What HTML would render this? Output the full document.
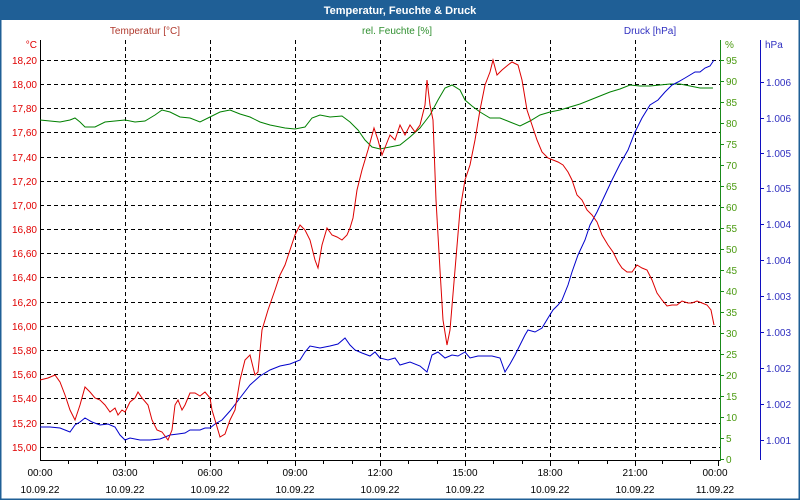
<!DOCTYPE html>
<html><head><meta charset="utf-8"><style>
html,body{margin:0;padding:0;background:#fff}
svg{display:block;font-family:"Liberation Sans",sans-serif}
</style></head><body>
<svg width="800" height="500" viewBox="0 0 800 500">
<rect x="0" y="0" width="800" height="500" fill="#fff"/>
<rect x="0" y="0" width="800" height="20" fill="#1f5f96"/>
<rect x="0.5" y="0.5" width="799" height="499" fill="none" stroke="#1f5f96" stroke-width="2"/>
<text x="400" y="14" text-anchor="middle" font-size="11" font-weight="bold" fill="#fff">Temperatur, Feuchte &amp; Druck</text>
<text x="145" y="34" text-anchor="middle" font-size="10" fill="#b03a2e">Temperatur [°C]</text>
<text x="397" y="34" text-anchor="middle" font-size="10" fill="#2f8f2f">rel. Feuchte [%]</text>
<text x="650" y="34" text-anchor="middle" font-size="10" fill="#3030c0">Druck [hPa]</text>
<g stroke="#000" stroke-dasharray="4,3" stroke-width="1">
<line x1="40" y1="60.5" x2="720" y2="60.5"/><line x1="40" y1="84.5" x2="720" y2="84.5"/>
<line x1="40" y1="108.5" x2="720" y2="108.5"/><line x1="40" y1="132.5" x2="720" y2="132.5"/>
<line x1="40" y1="157.5" x2="720" y2="157.5"/><line x1="40" y1="181.5" x2="720" y2="181.5"/>
<line x1="40" y1="205.5" x2="720" y2="205.5"/><line x1="40" y1="229.5" x2="720" y2="229.5"/>
<line x1="40" y1="253.5" x2="720" y2="253.5"/><line x1="40" y1="277.5" x2="720" y2="277.5"/>
<line x1="40" y1="302.5" x2="720" y2="302.5"/><line x1="40" y1="326.5" x2="720" y2="326.5"/>
<line x1="40" y1="350.5" x2="720" y2="350.5"/><line x1="40" y1="374.5" x2="720" y2="374.5"/>
<line x1="40" y1="398.5" x2="720" y2="398.5"/><line x1="40" y1="423.5" x2="720" y2="423.5"/>
<line x1="40" y1="447.5" x2="720" y2="447.5"/>
<line x1="125.5" y1="40" x2="125.5" y2="460"/><line x1="210.5" y1="40" x2="210.5" y2="460"/>
<line x1="295.5" y1="40" x2="295.5" y2="460"/><line x1="380.5" y1="40" x2="380.5" y2="460"/>
<line x1="465.5" y1="40" x2="465.5" y2="460"/><line x1="550.5" y1="40" x2="550.5" y2="460"/>
<line x1="635.5" y1="40" x2="635.5" y2="460"/>
</g>
<line x1="40.5" y1="40" x2="40.5" y2="461" stroke="#000"/>
<line x1="40" y1="460.5" x2="720" y2="460.5" stroke="#000"/>
<g stroke="#000">
<line x1="68.5" y1="460" x2="68.5" y2="464"/><line x1="97.5" y1="460" x2="97.5" y2="464"/><line x1="125.5" y1="460" x2="125.5" y2="466"/>
<line x1="153.5" y1="460" x2="153.5" y2="464"/><line x1="182.5" y1="460" x2="182.5" y2="464"/><line x1="210.5" y1="460" x2="210.5" y2="466"/>
<line x1="238.5" y1="460" x2="238.5" y2="464"/><line x1="267.5" y1="460" x2="267.5" y2="464"/><line x1="295.5" y1="460" x2="295.5" y2="466"/>
<line x1="323.5" y1="460" x2="323.5" y2="464"/><line x1="352.5" y1="460" x2="352.5" y2="464"/><line x1="380.5" y1="460" x2="380.5" y2="466"/>
<line x1="408.5" y1="460" x2="408.5" y2="464"/><line x1="437.5" y1="460" x2="437.5" y2="464"/><line x1="465.5" y1="460" x2="465.5" y2="466"/>
<line x1="493.5" y1="460" x2="493.5" y2="464"/><line x1="522.5" y1="460" x2="522.5" y2="464"/><line x1="550.5" y1="460" x2="550.5" y2="466"/>
<line x1="578.5" y1="460" x2="578.5" y2="464"/><line x1="607.5" y1="460" x2="607.5" y2="464"/><line x1="635.5" y1="460" x2="635.5" y2="466"/>
<line x1="662.5" y1="460" x2="662.5" y2="464"/><line x1="690.5" y1="460" x2="690.5" y2="464"/><line x1="718.5" y1="460" x2="718.5" y2="466"/>
</g>
<g font-size="10" fill="#000" text-anchor="middle">
<text x="40" y="476">00:00</text><text x="40" y="493">10.09.22</text>
<text x="125" y="476">03:00</text><text x="125" y="493">10.09.22</text>
<text x="210" y="476">06:00</text><text x="210" y="493">10.09.22</text>
<text x="295" y="476">09:00</text><text x="295" y="493">10.09.22</text>
<text x="380" y="476">12:00</text><text x="380" y="493">10.09.22</text>
<text x="465" y="476">15:00</text><text x="465" y="493">10.09.22</text>
<text x="550" y="476">18:00</text><text x="550" y="493">10.09.22</text>
<text x="635" y="476">21:00</text><text x="635" y="493">10.09.22</text>
<text x="715" y="476">00:00</text><text x="715" y="493">11.09.22</text>
</g>
<g font-size="10" fill="#e00000" text-anchor="end">
<text x="37" y="48">°C</text>
<text x="37" y="64">18,20</text><text x="37" y="88">18,00</text><text x="37" y="112">17,80</text>
<text x="37" y="136">17,60</text><text x="37" y="161">17,40</text><text x="37" y="185">17,20</text>
<text x="37" y="209">17,00</text><text x="37" y="233">16,80</text><text x="37" y="257">16,60</text>
<text x="37" y="281">16,40</text><text x="37" y="306">16,20</text><text x="37" y="330">16,00</text>
<text x="37" y="354">15,80</text><text x="37" y="378">15,60</text><text x="37" y="402">15,40</text>
<text x="37" y="427">15,20</text><text x="37" y="451">15,00</text>
</g>
<line x1="720.5" y1="40" x2="720.5" y2="461" stroke="#1a8a1a"/>
<g stroke="#1a8a1a">
<line x1="721" y1="60.5" x2="724" y2="60.5"/><line x1="721" y1="81.5" x2="724" y2="81.5"/><line x1="721" y1="102.5" x2="724" y2="102.5"/>
<line x1="721" y1="123.5" x2="724" y2="123.5"/><line x1="721" y1="144.5" x2="724" y2="144.5"/><line x1="721" y1="165.5" x2="724" y2="165.5"/>
<line x1="721" y1="186.5" x2="724" y2="186.5"/><line x1="721" y1="207.5" x2="724" y2="207.5"/><line x1="721" y1="228.5" x2="724" y2="228.5"/>
<line x1="721" y1="249.5" x2="724" y2="249.5"/><line x1="721" y1="270.5" x2="724" y2="270.5"/><line x1="721" y1="291.5" x2="724" y2="291.5"/>
<line x1="721" y1="312.5" x2="724" y2="312.5"/><line x1="721" y1="333.5" x2="724" y2="333.5"/><line x1="721" y1="354.5" x2="724" y2="354.5"/>
<line x1="721" y1="375.5" x2="724" y2="375.5"/><line x1="721" y1="396.5" x2="724" y2="396.5"/><line x1="721" y1="417.5" x2="724" y2="417.5"/>
<line x1="721" y1="438.5" x2="724" y2="438.5"/><line x1="721" y1="459.5" x2="724" y2="459.5"/>
</g>
<g font-size="10" fill="#4a9a10">
<text x="725" y="48">%</text>
<text x="726" y="64">95</text><text x="726" y="85">90</text><text x="726" y="106">85</text>
<text x="726" y="127">80</text><text x="726" y="148">75</text><text x="726" y="169">70</text>
<text x="726" y="190">65</text><text x="726" y="211">60</text><text x="726" y="232">55</text>
<text x="726" y="253">50</text><text x="726" y="274">45</text><text x="726" y="295">40</text>
<text x="726" y="316">35</text><text x="726" y="337">30</text><text x="726" y="358">25</text>
<text x="726" y="379">20</text><text x="726" y="400">15</text><text x="726" y="421">10</text>
<text x="726" y="442">5</text><text x="726" y="463">0</text>
</g>
<line x1="760.5" y1="40" x2="760.5" y2="460" stroke="#1010c0"/>
<g stroke="#1010c0">
<line x1="760" y1="82.5" x2="764" y2="82.5"/><line x1="760" y1="118.5" x2="764" y2="118.5"/>
<line x1="760" y1="153.5" x2="764" y2="153.5"/><line x1="760" y1="188.5" x2="764" y2="188.5"/>
<line x1="760" y1="224.5" x2="764" y2="224.5"/><line x1="760" y1="260.5" x2="764" y2="260.5"/>
<line x1="760" y1="296.5" x2="764" y2="296.5"/><line x1="760" y1="332.5" x2="764" y2="332.5"/>
<line x1="760" y1="368.5" x2="764" y2="368.5"/><line x1="760" y1="404.5" x2="764" y2="404.5"/>
<line x1="760" y1="440.5" x2="764" y2="440.5"/>
</g>
<g font-size="10" fill="#3030c0">
<text x="765" y="48">hPa</text>
<text x="766" y="86">1.006</text><text x="766" y="122">1.006</text><text x="766" y="157">1.005</text>
<text x="766" y="192">1.005</text><text x="766" y="228">1.004</text><text x="766" y="264">1.004</text>
<text x="766" y="300">1.003</text><text x="766" y="336">1.003</text><text x="766" y="372">1.002</text>
<text x="766" y="408">1.002</text><text x="766" y="444">1.001</text>
</g>
<polyline fill="none" stroke="#008000" stroke-width="1" points="40,120 50,121 60,122 70,120 75,118 80,122 85,127 95,127 105,122 115,121 125,120 135,122 145,121 155,115 162,110 170,112 180,117 190,118 200,122 210,117 220,112 230,110 240,114 250,117 260,122 270,125 285,128 295,129 305,127 312,118 320,115 330,117 342,116 350,122 358,130 365,140 372,147 380,149 390,147 400,145 410,137 420,128 430,115 438,100 445,88 452,85 460,90 465,100 472,106 480,112 490,118 500,118 510,122 520,126 530,121 540,115 550,112 560,110 570,107 580,104 590,100 600,96 610,92 620,89 630,85 640,86 650,86 660,85 670,84 680,84 690,86 700,88 713,88"/>
<polyline fill="none" stroke="#0000cc" stroke-width="1" points="40,427 50,427 60,428 70,432 75,425 80,422 85,418 92,422 100,425 108,424 115,427 120,435 125,440 130,438 140,440 150,440 160,439 165,437 170,435 178,434 185,433 190,430 200,430 205,428 210,428 215,424 222,420 230,411 240,398 250,385 260,376 270,370 280,366 290,364 300,360 305,352 310,346 320,348 330,346 338,344 345,338 350,345 355,350 362,353 370,356 375,352 380,358 388,360 395,358 400,365 410,362 420,366 427,372 432,355 438,352 445,358 452,355 458,356 465,352 470,358 478,356 485,356 492,356 500,358 505,372 510,364 515,355 520,345 525,335 528,330 535,332 542,328 548,318 553,310 558,305 562,300 568,285 572,272 578,255 585,240 590,225 597,212 605,195 612,180 620,164 628,150 635,132 642,118 650,105 658,100 665,92 672,85 678,82 685,78 690,75 695,72 700,72 705,68 710,66 714,60"/>
<polyline fill="none" stroke="#dd0000" stroke-width="1" points="40,380 48,378 55,375 60,382 65,395 70,410 75,420 80,405 85,387 90,392 95,398 100,400 105,405 110,412 115,408 118,415 122,410 125,412 130,402 135,398 138,392 142,398 148,405 152,420 157,430 162,432 168,440 172,430 175,405 178,400 182,410 185,405 190,393 195,393 200,396 205,392 210,398 212,410 215,420 220,437 225,434 230,420 235,410 240,380 245,360 250,355 255,375 258,372 262,330 268,310 275,290 280,275 285,265 290,250 295,235 300,225 305,230 310,240 315,260 318,268 322,245 327,228 332,235 337,237 342,240 347,235 350,228 353,218 357,190 362,170 368,150 374,128 378,140 382,155 386,145 390,135 395,140 400,125 405,135 410,125 415,132 420,125 425,105 427,80 430,105 433,120 436,200 440,270 443,320 447,345 450,330 455,270 460,210 465,180 470,165 475,140 480,110 485,85 490,72 493,60 497,75 502,70 508,65 512,62 518,65 522,80 527,110 532,125 537,140 542,152 548,158 553,160 558,162 563,165 568,172 572,180 577,195 582,200 587,210 592,215 597,222 602,235 608,245 613,252 618,262 622,268 627,272 632,272 637,265 642,268 647,270 652,280 657,293 662,300 667,306 672,305 677,305 682,301 688,303 692,303 697,301 702,303 707,305 711,310 714,325"/>
</svg>
</body></html>
